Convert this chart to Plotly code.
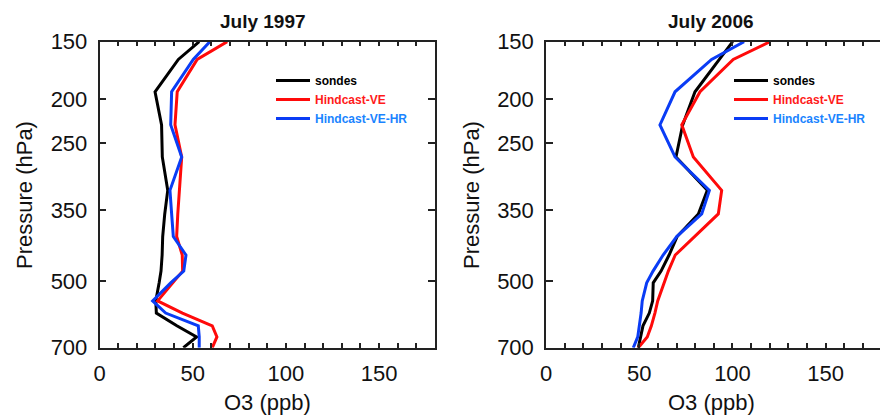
import math
import plotly.graph_objects as go

# Pressure levels (hPa)
pressure = [150, 164, 193, 228, 268, 317, 357, 400, 439, 476, 505, 553, 588, 627, 663, 700]

# July 1997 O3 (ppb)
sondes_1997 = [53.5, 42.3, 29.8, 33.3, 33.7, 36.6, 35.0, 33.9, 33.6, 33.0, 32.0, 30.2, 30.5, 41.5, 52.1, 45.0]
ve_1997 = [68.5, 52.4, 41.7, 40.5, 44.1, 42.8, 42.0, 41.4, 44.4, 44.6, 39.5, 31.2, 44.5, 60.5, 63.0, 60.5]
vehr_1997 = [59.2, 50.3, 38.7, 38.2, 44.1, 37.8, 38.7, 39.6, 46.4, 45.2, 38.2, 28.5, 35.5, 53.0, 53.5, 53.5]

# July 2006 O3 (ppb)
sondes_2006 = [100.1, 93.0, 79.9, 73.3, 69.7, 86.5, 81.7, 70.3, 66.0, 61.7, 57.5, 57.2, 55.4, 52.0, 50.6, 49.5]
ve_2006 = [120.1, 100.4, 82.6, 72.8, 79.0, 94.2, 92.4, 79.8, 69.3, 65.6, 63.3, 59.9, 58.4, 56.5, 54.3, 49.5]
vehr_2006 = [106.2, 88.8, 69.2, 61.1, 69.2, 87.6, 83.5, 70.1, 62.8, 57.4, 54.0, 51.6, 51.0, 50.2, 49.2, 46.8]

panel_titles = ["July 1997", "July 2006"]
series_names = ["sondes", "Hindcast-VE", "Hindcast-VE-HR"]
line_colors = ["#000000", "#ff0a0a", "#0a3cf5"]
text_colors = ["#000000", "#ff1a1a", "#1a84ff"]
y_ticks = [150, 200, 250, 350, 500, 700]

W, H = 880, 417
FONT = "Liberation Sans, Arial, Helvetica, sans-serif"
INK = "#111"

fig = go.Figure()

panels = [(sondes_1997, ve_1997, vehr_1997), (sondes_2006, ve_2006, vehr_2006)]
for i, series in enumerate(panels):
    ax = "" if i == 0 else "2"
    for j, vals in enumerate(series):
        fig.add_trace(go.Scatter(
            x=vals, y=pressure, mode="lines",
            line=dict(color=line_colors[j], width=3),
            name="<b><span style='color:%s'>%s</span></b>" % (text_colors[j], series_names[j]),
            xaxis="x" + ax, yaxis="y" + ax,
            legend="legend" if i == 0 else "legend2",
            showlegend=True,
        ))


def px_x(v):
    return v / W


def px_y(v):
    return 1 - v / H


ydom = [px_y(347.7), px_y(41.7)]
xdoms = [[px_x(99.5), px_x(435)], [px_x(546), 1.0]]
xranges = [[0, 180], [0, 179.1]]
yrange = [math.log10(700), math.log10(150)]

axis_common = dict(
    showline=True, linecolor="#222", linewidth=1.5, mirror="ticks",
    ticks="inside", tickcolor="#222", tickwidth=1.5,
    showgrid=False, zeroline=False,
    tickfont=dict(family=FONT, size=22, color=INK),
)

for i in range(2):
    ax = "" if i == 0 else "2"
    fig.layout["xaxis" + ax] = dict(
        axis_common, domain=xdoms[i], range=xranges[i], anchor="y" + ax,
        tickvals=[0, 50, 100, 150], ticklen=5,
        minor=dict(dtick=10, ticks="inside", ticklen=5, tickcolor="#222", tickwidth=1.5),
        ticklabelstandoff=5,
    )
    fig.layout["yaxis" + ax] = dict(
        axis_common, domain=ydom, type="log", range=yrange,
        anchor="x" + ax, tickvals=y_ticks, ticktext=[str(t) for t in y_ticks], ticklen=7,
        ticklabelstandoff=6,
        mirror="ticks" if i == 0 else False,
    )

# right-hand ticks of the second panel (its border falls just outside the page)
fig.layout["yaxis3"] = dict(
    overlaying="y2", side="right", anchor="x2", type="log", range=yrange,
    tickvals=y_ticks, showticklabels=False, ticks="inside", ticklen=7,
    tickcolor="#222", tickwidth=1.5, showline=False, showgrid=False, zeroline=False,
)

annotations = []
title_x = [263, 711]
ylab_x = [24, 471]
xlab_x = [267, 711]
for i in range(2):
    annotations.append(dict(text="<b>%s</b>" % panel_titles[i], x=px_x(title_x[i]), y=px_y(21),
                            xref="paper", yref="paper", showarrow=False,
                            font=dict(family=FONT, size=19, color=INK), xanchor="center", yanchor="middle"))
    annotations.append(dict(text="Pressure (hPa)", x=px_x(ylab_x[i]), y=px_y(195),
                            xref="paper", yref="paper", showarrow=False, textangle=-90,
                            font=dict(family=FONT, size=22, color=INK), xanchor="center", yanchor="middle"))
    annotations.append(dict(text="O3 (ppb)", x=px_x(xlab_x[i]), y=px_y(402),
                            xref="paper", yref="paper", showarrow=False,
                            font=dict(family=FONT, size=22, color=INK), xanchor="center", yanchor="middle"))

legend_common = dict(
    bgcolor="rgba(0,0,0,0)", borderwidth=0,
    font=dict(family=FONT, size=12, color="#000"),
    xanchor="left", yanchor="top", tracegroupgap=0, itemwidth=34,
)

fig.update_layout(
    width=W, height=H,
    margin=dict(l=0, r=0, t=0, b=0, autoexpand=False),
    paper_bgcolor="white", plot_bgcolor="white",
    annotations=annotations,
    legend=dict(legend_common, x=px_x(271), y=px_y(66)),
    legend2=dict(legend_common, x=px_x(729), y=px_y(66)),
)

fig.write_html("out.html")
